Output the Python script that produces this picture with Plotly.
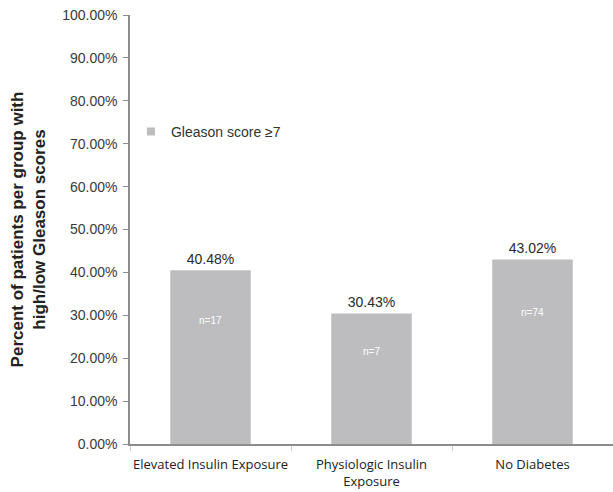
import plotly.graph_objects as go

categories = ["Elevated Insulin Exposure", "Physiologic Insulin<br>Exposure", "No Diabetes"]
values = [40.48, 30.43, 43.02]
value_labels = ["40.48%", "30.43%", "43.02%"]
n_labels = ["n=17", "n=7", "n=74"]
series_name = "Gleason score ≥7"
y_ticks = [0, 10, 20, 30, 40, 50, 60, 70, 80, 90, 100]
y_tick_labels = [f"{t:.2f}%" for t in y_ticks]

bar_color = "#bdbdc0"

fig = go.Figure()
fig.add_trace(go.Bar(
    x=categories, y=values, name=series_name,
    marker=dict(color=bar_color, line=dict(width=0)),
    width=0.5,
    text=value_labels, textposition="outside",
    textfont=dict(family="Liberation Sans, Arial", size=14, color="#2a2a2a"),
    cliponaxis=False,
    showlegend=False,
))
# legend entry with a small square symbol
fig.add_trace(go.Scatter(
    x=[None], y=[None], mode="markers", name=series_name,
    marker=dict(symbol="square", size=8, color=bar_color),
    showlegend=True,
))

for c, v, n in zip(categories, values, n_labels):
    fig.add_annotation(x=c, y=v * 0.71, text=n, showarrow=False,
                       font=dict(family="Liberation Sans, Arial", size=10, color="#ffffff"))

fig.update_layout(
    width=613, height=492,
    margin=dict(l=130, r=0, t=15, b=48),
    paper_bgcolor="white", plot_bgcolor="white",
    bargap=0.5,
    showlegend=True,
    legend=dict(x=0.002, y=0.765, xanchor="left", yanchor="top",
                bgcolor="rgba(0,0,0,0)",
                font=dict(family="Liberation Sans, Arial", size=14, color="#333333"),
                itemwidth=30),
    yaxis=dict(range=[0, 100], tickvals=y_ticks, ticktext=y_tick_labels,
               showgrid=False, zeroline=False, automargin=False,
               showline=True, linecolor="#8c8c8c", linewidth=1.5,
               ticks="outside", ticklen=5, tickcolor="#8c8c8c",
               ticklabelstandoff=3,
               tickfont=dict(family="Liberation Sans, Arial", size=14, color="#3a3a3a"),
               title=dict(text="<b>Percent of patients per group with<br>high/low Gleason scores</b>",
                          font=dict(family="Liberation Sans, Arial", size=17, color="#222222"),
                          standoff=12)),
    xaxis=dict(showgrid=False, zeroline=False, automargin=False,
               showline=True, linecolor="#8c8c8c", linewidth=1.5,
               ticks="outside", ticklen=5, tickcolor="#cccccc", tickson="boundaries",
               ticklabelstandoff=8, tickangle=0,
               tickfont=dict(family="Open Sans, Liberation Sans", size=13, color="#222222")),
)

fig.write_html("out.html")
